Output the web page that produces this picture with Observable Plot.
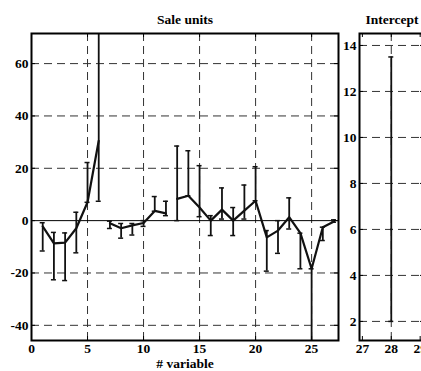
<!DOCTYPE html>
<html><head><meta charset="utf-8">
<script src="https://cdn.jsdelivr.net/npm/d3@7"></script>
<script src="https://cdn.jsdelivr.net/npm/@observablehq/plot@0.6"></script>
<style>
html,body{margin:0;padding:0;background:#fff;overflow:hidden;}
#wrap{position:relative;width:421px;height:371px;overflow:hidden;background:#fff;}
#wrap svg{position:absolute;top:0;}
#wrap svg text{font-family:'Liberation Serif','Times New Roman',serif !important;}
</style></head><body><div id="wrap"></div>
<script>
// ---- data ----
const variables = [1,2,3,4,5,6,7,8,9,10,11,12,13,14,15,16,17,18,19,20,21,22,23,24,25,26,27];
const segment   = [1,1,1,1,1,1,2,2,2,2,2,2,3,3,3,3,3,3,3,3,3,3,3,3,3,3,3];
const estimate  = [-2.2,-8.7,-8.4,-2.9,7,30.5,-1,-2.9,-1.8,-0.9,3.7,2.8,8.3,9.5,5,0,4.2,0,3.8,7.6,-6.4,-3.8,1.3,-4.8,-18.4,-2.5,-0.3];
const lower     = [-11.6,-22.6,-22.9,-12.3,7,7.4,-3,-6.7,-5.5,-2.2,3.6,1.9,0,9.5,1.5,-5.7,0.6,-5.7,0.6,7.6,-19.3,-12.5,-3.2,-18.4,-70,-7.6,-0.6];
const upper     = [-0.8,-4.5,-4.7,3.2,22.2,90,-0.2,-1.1,-1.1,0,9.2,7.4,28.5,26.7,21,1.9,12.5,5,13.6,20.6,-3.8,0,8.7,-4.8,-18.4,-2.5,0.3];

const interceptX = [28];
const interceptEst = [6];
const interceptLo = [2];
const interceptHi = [13.5];

const leftXTicks = [0,5,10,15,20,25];
const leftYTicks = [-40,-20,0,20,40,60];
const leftGridX = [5,10,15,20,25];
const leftGridY = [-40,-20,20,40,60];
const rightXTicks = [27,28,29];
const rightYTicks = [2,4,6,8,10,12,14];

const leftData = variables.map((v,i)=>({x:v, est:estimate[i], lo:lower[i], hi:upper[i], seg:segment[i]}));
const rightData = interceptX.map((v,i)=>({x:v, est:interceptEst[i], lo:interceptLo[i], hi:interceptHi[i], seg:1}));

const FONT = "'Liberation Serif', 'Times New Roman', serif";

function panel({data, width, mL, mR, xDomain, yDomain, xTicks, yTicks, gridX, gridY, title, xLabel, zeroLine}) {
  const mT = 33, mB = 31, height = 371;
  const w = width - mL - mR, h = height - mT - mB;
  const ux = (xDomain[1]-xDomain[0]) / w;   // data units per px
  const uy = (yDomain[1]-yDomain[0]) / h;
  const tl = 4, cap = 2.5;
  const marks = [
    Plot.ruleX(gridX, {stroke:"#333", strokeWidth:1, strokeDasharray:"8,5"}),
    Plot.ruleY(gridY, {stroke:"#333", strokeWidth:1, strokeDasharray:"8,5"}),
  ];
  if (zeroLine) marks.push(Plot.ruleY([0], {stroke:"#000", strokeWidth:1}));
  marks.push(
    Plot.ruleX(data, {x:"x", y1:"lo", y2:"hi", stroke:"#111", strokeWidth:1.8, clip:true}),
    Plot.ruleY(data, {y:"lo", x1:d=>d.x-cap*ux, x2:d=>d.x+cap*ux, stroke:"#111", strokeWidth:1.5, clip:true}),
    Plot.ruleY(data, {y:"hi", x1:d=>d.x-cap*ux, x2:d=>d.x+cap*ux, stroke:"#111", strokeWidth:1.5, clip:true}),
    Plot.line(data, {x:"x", y:"est", z:"seg", stroke:"#111", strokeWidth:2.2, clip:true}),
    // inward ticks
    Plot.ruleX(xTicks, {y1:yDomain[0], y2:yDomain[0]+tl*uy, stroke:"#000", strokeWidth:1}),
    Plot.ruleX(xTicks, {y1:yDomain[1], y2:yDomain[1]-tl*uy, stroke:"#000", strokeWidth:1}),
    Plot.ruleY(yTicks, {x1:xDomain[0], x2:xDomain[0]+tl*ux, stroke:"#000", strokeWidth:1}),
    Plot.ruleY(yTicks, {x1:xDomain[1], x2:xDomain[1]-tl*ux, stroke:"#000", strokeWidth:1}),
    Plot.frame({stroke:"#000", strokeWidth:2}),
    Plot.text([title], {frameAnchor:"top", lineAnchor:"middle", dy:-14, text:d=>d, fontSize:13.5, fontWeight:"bold", fontFamily:FONT, fill:"#000"})
  );
  if (xLabel) marks.push(Plot.text([xLabel], {frameAnchor:"bottom", lineAnchor:"middle", dy:23.5, text:d=>d, fontSize:13.5, fontWeight:"bold", fontFamily:FONT, fill:"#000"}));
  const svg = Plot.plot({
    width, height, marginLeft:mL, marginRight:mR, marginTop:mT, marginBottom:mB,
    style:{fontFamily:FONT, fontSize:"13.5px", fontWeight:"bold", color:"#000", background:"transparent", overflow:"visible"},
    x:{domain:xDomain, ticks:xTicks, tickSize:0, tickPadding:3, tickFormat:d=>String(d), label:null},
    y:{domain:yDomain, ticks:yTicks, tickSize:0, tickPadding:3, tickFormat:d=>String(d), label:null},
    marks
  });
  svg.setAttribute("font-family", FONT);
  return svg;
}

const left = panel({data:leftData, width:345, mL:31, mR:7, xDomain:[0,27.4], yDomain:[-45.8,71.5],
  xTicks:leftXTicks, yTicks:leftYTicks, gridX:leftGridX, gridY:leftGridY, title:"Sale units", xLabel:"# variable", zeroLine:true});
const right = panel({data:rightData, width:85, mL:19, mR:1, xDomain:[26.9,29.15], yDomain:[1.17,14.52],
  xTicks:rightXTicks, yTicks:rightYTicks, gridX:[28], gridY:rightYTicks, title:"Intercept", xLabel:null, zeroLine:false});

const wrap = document.getElementById("wrap");
left.style.left = "0px";
right.style.left = "340px";
wrap.appendChild(left);
wrap.appendChild(right);
</script></body></html>
